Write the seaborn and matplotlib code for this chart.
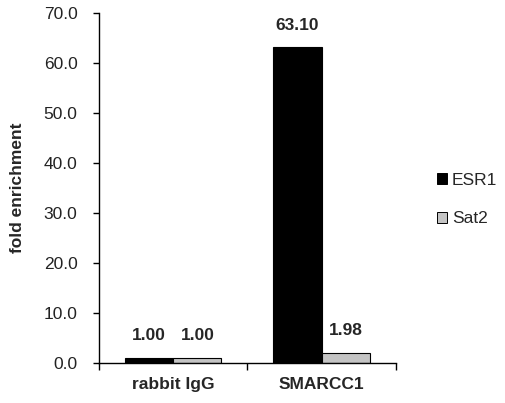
import pandas as pd
import matplotlib.pyplot as plt
import seaborn as sns
from matplotlib.patches import Patch
from matplotlib.ticker import FormatStrFormatter

# data
groups = ["rabbit IgG", "SMARCC1"]
targets = ["ESR1", "Sat2"]
esr1 = [1.00, 63.10]
sat2 = [1.00, 1.98]
colors = {"ESR1": "#000000", "Sat2": "#c4c4c4"}

df = pd.DataFrame({
    "group": groups * 2,
    "target": ["ESR1"] * len(groups) + ["Sat2"] * len(groups),
    "value": esr1 + sat2,
})

sns.set_style("white")
plt.rcParams['font.family'] = ['Liberation Sans', 'DejaVu Sans']

fs = 12.5

fig = plt.figure(figsize=(5.05, 4.03), dpi=100)
ax = fig.add_axes([0.196, 0.099, 0.588, 0.869])

sns.barplot(data=df, x="group", y="value", hue="target", order=groups,
            hue_order=targets, palette=colors, width=0.65,
            edgecolor="black", linewidth=0.8, legend=False, ax=ax)

# value labels
for cont in ax.containers:
    for bar in cont:
        h = bar.get_height()
        ax.annotate(f"{h:.2f}", (bar.get_x() + bar.get_width() / 2, h),
                    xytext=(0, 16), textcoords="offset points",
                    ha="center", va="center", fontsize=fs,
                    fontweight="bold")

ax.set_ylim(0, 70)
ax.set_yticks(range(0, 71, 10))
ax.yaxis.set_major_formatter(FormatStrFormatter("%.1f"))
ax.set_xlim(-0.5, len(groups) - 0.5)

# ticks at category boundaries, labels in the middle
ax.set_xticks([i - 0.5 for i in range(len(groups) + 1)])
ax.set_xticklabels([])
ax.set_xticks(range(len(groups)), minor=True)
ax.set_xticklabels(groups, minor=True, fontsize=fs, fontweight="bold")
ax.tick_params(axis="x", which="minor", length=0, pad=10)
ax.tick_params(axis="x", which="major", direction="out", length=5,
               width=1, color="black", bottom=True)
ax.tick_params(axis="y", direction="out", length=4.5, width=1,
               color="black", left=True, labelsize=fs, pad=11,
               labelcolor="#222222")

for side in ["top", "right"]:
    ax.spines[side].set_visible(False)
for side in ["left", "bottom"]:
    ax.spines[side].set_color("black")
    ax.spines[side].set_linewidth(1)

ax.set_xlabel("")
ax.set_ylabel("fold enrichment", fontsize=fs, fontweight="bold")
ax.yaxis.set_label_coords(-0.25, 0.5)

handles = [Patch(facecolor=colors[t], edgecolor="black", linewidth=0.7,
                 label=t) for t in targets]
fig.legend(handles=handles, loc="center left", bbox_to_anchor=(0.865, 0.505),
           frameon=False, fontsize=fs, handlelength=0.57, handleheight=0.57,
           handletextpad=0.29, labelspacing=1.36, borderpad=0,
           borderaxespad=0)

fig.savefig("out.png", dpi=100)
